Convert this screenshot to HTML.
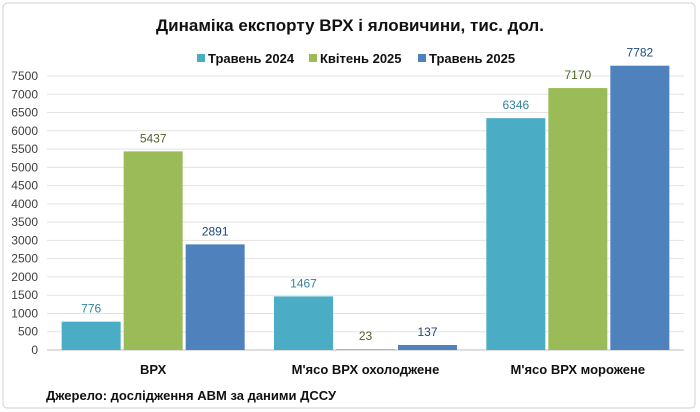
<!DOCTYPE html>
<html><head><meta charset="utf-8"><style>
body{margin:0;background:#fff;}
svg{display:block;font-family:"Liberation Sans",Calibri,sans-serif;}
</style></head><body>
<svg id="chart" width="700" height="412">
<rect x="3" y="3" width="692" height="405" rx="4" fill="#fff" stroke="#d0d0d0"/>
<text x="350" y="31" text-anchor="middle" font-size="17" font-weight="bold" fill="#111">Динаміка експорту ВРХ і яловичини, тис. дол.</text>
<g id="legend"></g>
<g id="grid"></g>
<g id="yaxis"></g>
<g id="bars"></g>
<g id="xaxis"></g>
<text x="46" y="400" font-size="13" font-weight="bold" fill="#111">Джерело: дослідження АВМ за даними ДССУ</text>
</svg>
<script>
const categories=["ВРХ","М'ясо ВРХ охолоджене","М'ясо ВРХ морожене"];
const seriesNames=["Травень 2024","Квітень 2025","Травень 2025"];
const may2024=[776,1467,6346];
const apr2025=[5437,23,7170];
const may2025=[2891,137,7782];
const yTicks=[0,500,1000,1500,2000,2500,3000,3500,4000,4500,5000,5500,6000,6500,7000,7500];
const colors=["#4bacc6","#9bbb59","#4f81bd"];
const labelColors=["#31849b","#4f6228","#1f497d"];
const NS="http://www.w3.org/2000/svg";
const x0=47,x1=684,y0=350,yTop=76,yMax=7500;
const y=v=>y0-(v/yMax)*(y0-yTop);
const groupW=(x1-x0)/categories.length;
const barW=59,gap=3;
function mk(tag,attrs,parent){const e=document.createElementNS(NS,tag);for(const k in attrs)e.setAttribute(k,attrs[k]);parent.appendChild(e);return e;}
const grid=document.getElementById('grid'),yax=document.getElementById('yaxis'),bars=document.getElementById('bars'),xax=document.getElementById('xaxis'),leg=document.getElementById('legend');
yTicks.forEach(t=>{
  const l=mk('line',{x1:x0,x2:x1,y1:y(t),y2:y(t),stroke:t===0?'#bfbfbf':'#e3e3e3','stroke-width':1},grid);
  
  
  const tx=mk('text',{x:38,y:y(t)+4,'text-anchor':'end','font-size':12,fill:'#404040'},yax);
  tx.textContent=t;
  
  
});
const series=[may2024,apr2025,may2025];
categories.forEach((c,i)=>{
  const cx=x0+groupW*(i+0.5);
  series.forEach((s,j)=>{
    const bx=cx+(j-1)*(barW+gap)-barW/2;
    const r=mk('rect',{x:bx,y:y(s[i]),width:barW,height:y0-y(s[i]),fill:colors[j]},bars);
    
    
    const t=mk('text',{x:bx+barW/2,y:y(s[i])-9,'text-anchor':'middle','font-size':12,fill:labelColors[j]},bars);
    t.textContent=s[i];
    
    
  });
  const xt=mk('text',{x:cx,y:374,'text-anchor':'middle','font-size':13,'font-weight':'bold',fill:'#111'},xax);
  xt.textContent=c;
  
  
});
const legX=[197,309,418];
seriesNames.forEach((n,j)=>{
  const r=mk('rect',{x:legX[j],y:54,width:8,height:8,fill:colors[j]},leg);
  
  
  const t=mk('text',{x:legX[j]+11,y:63,'font-size':13,'font-weight':'bold',fill:'#111'},leg);
  t.textContent=n;
  
  
});
</script>
</body></html>
